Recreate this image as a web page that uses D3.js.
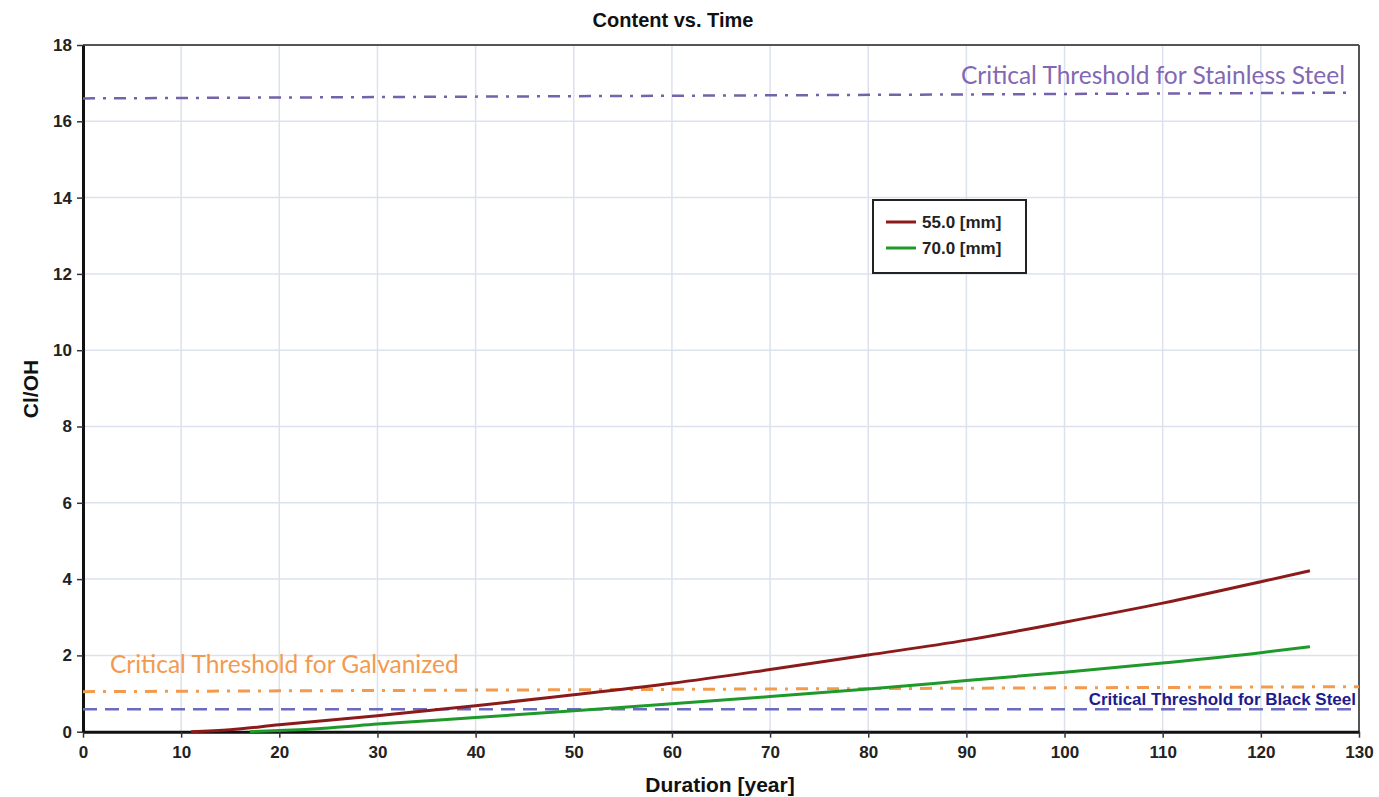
<!DOCTYPE html>
<html>
<head>
<meta charset="utf-8">
<script src="https://cdn.jsdelivr.net/npm/d3@7"></script>
<style>
  body { margin: 0; background: #fff; }
  svg text { font-family: "Liberation Sans", Arial, sans-serif; }
</style>
</head>
<body>
<div id="chart"></div>
<script>

// series: Cl/OH vs duration
var years55 = [11, 15, 20, 25, 30, 35, 40, 50, 60, 70, 80, 90, 100, 110, 120, 125];
var vals55  = [0, 0.05, 0.18, 0.3, 0.42, 0.55, 0.68, 0.97, 1.27, 1.63, 2.01, 2.4, 2.87, 3.37, 3.93, 4.22];

var years70 = [17, 20, 25, 30, 40, 50, 60, 70, 80, 90, 100, 110, 120, 125];
var vals70  = [0, 0.03, 0.1, 0.2, 0.37, 0.55, 0.73, 0.92, 1.12, 1.34, 1.56, 1.8, 2.07, 2.23];

var seriesNames = ["55.0 [mm]", "70.0 [mm]"];

// threshold overlays (start / end value, as drawn)
var thresholdNames = ["Critical Threshold for Stainless Steel", "Critical Threshold for Galvanized", "Critical Threshold for Black Steel"];
var thresholdFrom  = [16.6, 1.05, 0.59];
var thresholdTo    = [16.75, 1.18, 0.59];
var thresholdXEnd  = [129, 130, 129.3];

var xTicks = d3.range(0, 131, 10);
var yTicks = d3.range(0, 19, 2);

var margin = {top: 45, right: 20, bottom: 66, left: 83},
    width = 1359 - margin.left,
    height = 731.7 - margin.top;

var svg = d3.select("#chart")
  .append("svg")
    .attr("width", 1379)
    .attr("height", 797);

var g = svg.append("g")
    .attr("transform", "translate(" + margin.left + "," + margin.top + ")");

var x = d3.scaleLinear().domain([0, 130]).range([0, width]);
var y = d3.scaleLinear().domain([0, 18]).range([height, 0]);

// grid
g.selectAll(".vgrid")
  .data(xTicks.slice(1, -1))
  .enter().append("line")
    .attr("x1", function(d) { return x(d); })
    .attr("x2", function(d) { return x(d); })
    .attr("y1", 0).attr("y2", height)
    .attr("stroke", "#dbe2ee").attr("stroke-width", 1.5);
g.selectAll(".hgrid")
  .data(yTicks.slice(1, -1))
  .enter().append("line")
    .attr("y1", function(d) { return y(d); })
    .attr("y2", function(d) { return y(d); })
    .attr("x1", 0).attr("x2", width)
    .attr("stroke", "#dbe2ee").attr("stroke-width", 1.5);

// frame
g.append("line").attr("x1", 0).attr("x2", width).attr("y1", 0).attr("y2", 0)
  .attr("stroke", "#555").attr("stroke-width", 2);
g.append("line").attr("x1", width).attr("x2", width).attr("y1", 0).attr("y2", height)
  .attr("stroke", "#555").attr("stroke-width", 2);

// axes
var xAxis = g.append("g")
  .attr("transform", "translate(0," + height + ")")
  .call(d3.axisBottom(x).tickValues(xTicks).tickSize(6).tickSizeOuter(0));
var yAxis = g.append("g")
  .call(d3.axisLeft(y).tickValues(yTicks).tickSize(6).tickSizeOuter(0));

[xAxis, yAxis].forEach(function(a) {
  a.select(".domain").attr("stroke", "#111").attr("stroke-width", 3);
  a.selectAll(".tick line").attr("stroke", "#333").attr("stroke-width", 1.5);
  a.selectAll(".tick text")
    .attr("fill", "#222")
    .style("font-size", "17px")
    .style("font-weight", "bold");
});
xAxis.selectAll(".tick text").attr("dy", "1.0em");
yAxis.selectAll(".tick text").attr("dx", "-2px");

// threshold lines
var thrColors = ["#7462aa", "#f39a4c", "#6a6ac0"];
var thrDash = ["12,8,3,8", "12,8,3,8", "14,8"];
thresholdNames.forEach(function(n, i) {
  g.append("line")
    .attr("x1", x(0)).attr("x2", x(thresholdXEnd[i]))
    .attr("y1", y(thresholdFrom[i])).attr("y2", y(thresholdTo[i]))
    .attr("stroke", thrColors[i])
    .attr("stroke-width", i == 1 ? 3 : 2.5)
    .attr("stroke-dasharray", thrDash[i]);
});

// series
var line = d3.line()
  .x(function(d) { return x(d[0]); })
  .y(function(d) { return y(d[1]); })
  .curve(d3.curveMonotoneX);

var series = [d3.zip(years55, vals55), d3.zip(years70, vals70)];
var colors = ["#8b1a1a", "#1f9a2a"];

g.selectAll(".series")
  .data(series)
  .enter().append("path")
    .attr("d", line)
    .attr("fill", "none")
    .attr("stroke", function(d, i) { return colors[i]; })
    .attr("stroke-width", 3);

// threshold labels
svg.append("text")
  .attr("x", 1345).attr("y", 84)
  .attr("text-anchor", "end")
  .style("font-family", "Lato, 'Open Sans', sans-serif")
  .style("font-size", "24.5px")
  .attr("fill", "#8268b4")
  .text(thresholdNames[0]);
svg.append("text")
  .attr("x", 110).attr("y", 673)
  .style("font-family", "Lato, 'Open Sans', sans-serif")
  .style("font-size", "24.5px")
  .attr("fill", "#f29a50")
  .text(thresholdNames[1]);
svg.append("text")
  .attr("x", 1356).attr("y", 705)
  .attr("text-anchor", "end")
  .style("font-size", "17px")
  .style("font-weight", "bold")
  .attr("fill", "#1c1c8e")
  .text(thresholdNames[2]);

// legend
var lg = svg.append("g").attr("transform", "translate(873,200)");
lg.append("rect")
  .attr("width", 153).attr("height", 73)
  .attr("fill", "#fff").attr("stroke", "#222").attr("stroke-width", 2);
seriesNames.forEach(function(n, i) {
  lg.append("line")
    .attr("x1", 13).attr("x2", 43)
    .attr("y1", 22 + i * 26).attr("y2", 22 + i * 26)
    .attr("stroke", colors[i]).attr("stroke-width", 3);
  lg.append("text")
    .attr("x", 49).attr("y", 28 + i * 26)
    .style("font-size", "17px").style("font-weight", "bold")
    .attr("fill", "#222")
    .text(n);
});

// titles
svg.append("text")
  .attr("x", 673).attr("y", 27)
  .attr("text-anchor", "middle")
  .style("font-size", "20px").style("font-weight", "bold")
  .attr("fill", "#111")
  .text("Content vs. Time");
svg.append("text")
  .attr("x", 720).attr("y", 792)
  .attr("text-anchor", "middle")
  .style("font-size", "21px").style("font-weight", "bold")
  .attr("fill", "#111")
  .text("Duration [year]");
svg.append("text")
  .attr("transform", "translate(38,389) rotate(-90)")
  .attr("text-anchor", "middle")
  .style("font-size", "21px").style("font-weight", "bold")
  .attr("fill", "#111")
  .text("Cl/OH");

</script>
</body>
</html>
